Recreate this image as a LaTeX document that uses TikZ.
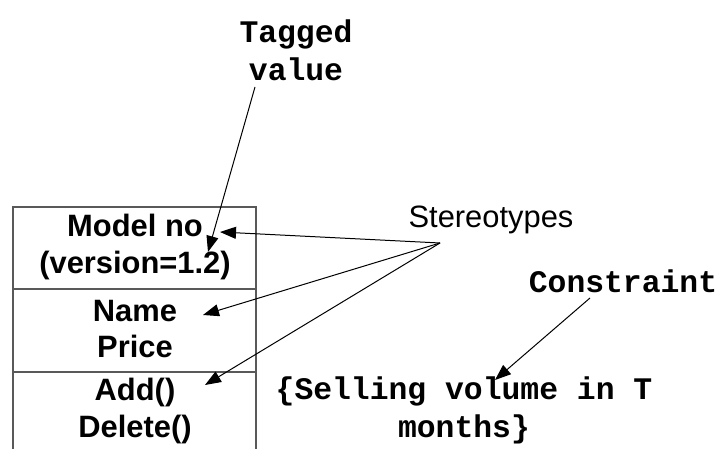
\documentclass[tikz,border=0pt]{standalone}
\usepackage{fontspec}
\setmainfont{Liberation Sans}
\newfontfamily\monofont{Liberation Mono}
\usetikzlibrary{arrows.meta}

\begin{document}
\begin{tikzpicture}[x=1bp, y=-1bp,
    member/.style={font=\fontsize{31}{37}\selectfont\bfseries, align=center, inner sep=0pt},
    note/.style={font=\fontsize{31.5}{38}\selectfont\monofont\bfseries, align=center, inner sep=0pt},
    pointer/.style={-{Triangle[length=16bp,width=12bp]}, line width=1bp},
    frame/.style={line width=2bp, black!65}]
        \useasboundingbox (0,0) rectangle (724,449);

        % Class box
        \draw[frame] (13,449) -- (13,207) -- (256,207) -- (256,449);
        \draw[frame] (13,289) -- (256,289);
        \draw[frame] (13,372) -- (256,372);

        % Class compartments
        \node[member] (ident) at (135,247) {Model no\\(version=1.2)};
        \node[member] (attrs) at (135,329) {Name\\Price};
        \node[member] (ops) at (135,411) {Add()\\Delete()};

        % Labels
        \node[font=\fontsize{31}{37}\selectfont, inner sep=0pt] (stereo) at (491,220) {Stereotypes};
        \node[note] (tagged) at (296,50) {Tagged\\value};
        \node[note] (constraint) at (623,281) {Constraint};
        \node[note] (rule) at (464,410) {\{Selling volume in T\\months\}};

        % Arrow ends
        \coordinate (tagtail) at (255,87);
        \coordinate (hub) at (440,243);
        \coordinate (constail) at (590,298);
        \coordinate (identtip) at (208,252);
        \coordinate (modeltip) at (220,232);
        \coordinate (nametip) at (203,315);
        \coordinate (addtip) at (205,385);
        \coordinate (ruletip) at (495,380);

        % Arrows
        \draw[pointer] (tagtail) -- (identtip);
        \draw[pointer] (hub) -- (modeltip);
        \draw[pointer] (hub) -- (nametip);
        \draw[pointer] (hub) -- (addtip);
        \draw[pointer] (constail) -- (ruletip);
    \end{tikzpicture}
\end{document}
